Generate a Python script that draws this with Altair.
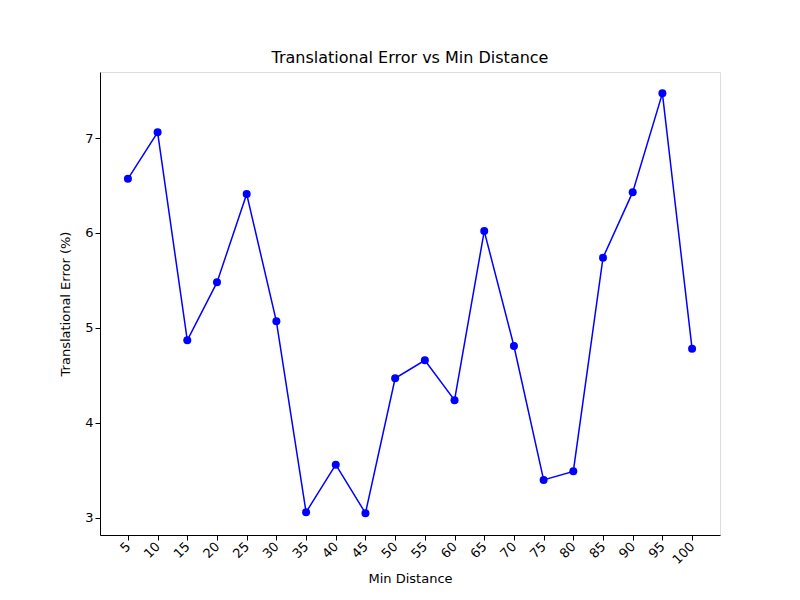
import altair as alt
import pandas as pd

min_distance = [5, 10, 15, 20, 25, 30, 35, 40, 45, 50,
                55, 60, 65, 70, 75, 80, 85, 90, 95, 100]
trans_error = [6.57, 7.06, 4.87, 5.48, 6.41, 5.07, 3.06, 3.56, 3.05, 4.47,
               4.66, 4.24, 6.02, 4.81, 3.40, 3.49, 5.74, 6.43, 7.47, 4.78]

df = pd.DataFrame({"dist": [str(d) for d in min_distance], "err": trans_error})
order = [str(d) for d in min_distance]

xaxis = alt.X("dist:O", sort=order, title="Min Distance",
              scale=alt.Scale(type="point", padding=0.94),
              axis=alt.Axis(labelAngle=315, labelAlign="right", labelBaseline="middle",
                            labelPadding=4,
                            tickColor="black", domainColor="black", labelColor="black",
                            labelFontSize=13, titleFontSize=13, titleFontWeight="normal",
                            titlePadding=6))
yaxis = alt.Y("err:Q", title="Translational Error (%)",
              scale=alt.Scale(domain=[2.82, 7.695], nice=False, zero=False),
              axis=alt.Axis(values=[3, 4, 5, 6, 7], format="d", grid=False,
                            tickColor="black", domainColor="black", labelColor="black",
                            labelFontSize=13, titleFontSize=13, titleFontWeight="normal",
                            titlePadding=12))

base = alt.Chart(df).encode(x=xaxis, y=yaxis)
line = base.mark_line(color="blue", strokeWidth=1.5)
pts = base.mark_circle(color="blue", size=64, opacity=1)

chart = (line + pts).properties(
    width=620, height=463,
    title=alt.TitleParams("Translational Error vs Min Distance", fontSize=16,
                          fontWeight="normal", color="black", offset=6),
    autosize=alt.AutoSizeParams(type="none"),
    padding={"left": 92, "top": 64, "right": 72, "bottom": 57},
).configure_view(stroke="#000000", strokeWidth=1).configure(
    font="DejaVu Sans").configure_axisX(grid=False)

chart.save("out.html", embed_options={"renderer": "svg", "actions": False})
